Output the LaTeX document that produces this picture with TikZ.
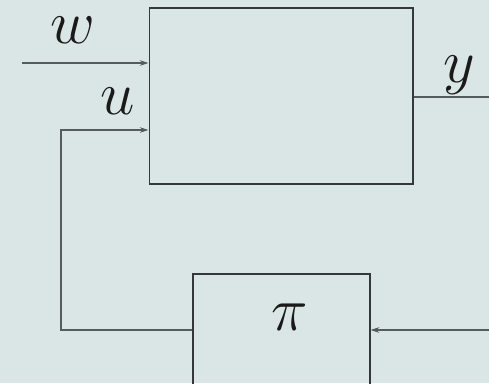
\documentclass[tikz,border=0pt]{standalone}
\usepackage{xcolor}
\usepackage{tikz}
\usepackage{amsmath,amssymb}
\usetikzlibrary{arrows.meta,positioning}
\definecolor{Back}{HTML}{D9E6E5}
\definecolor{Ink}{HTML}{1A1A1A}
\definecolor{Wire}{HTML}{555C5C}
\definecolor{Edge}{HTML}{333838}

\begin{document}
\begin{tikzpicture}[x=0.02cm,y=-0.02cm,
    block/.style={draw=Edge,line width=0.6pt,inner sep=0pt},
    wire/.style={Wire,line width=0.6pt},
    sig/.style={-{Stealth[length=5pt,width=3.2pt]}},
    lab/.style={Ink,anchor=base,inner sep=1pt,font=\Huge,scale=1.41}]
  \fill[Back] (0,0) rectangle (489,383);
  \useasboundingbox (0,0) rectangle (489,383);
  \clip (0,0) rectangle (489,383);
  % blocks
  \node[block,minimum width=5.28cm,minimum height=3.52cm] (plant) at (281,96) {};
  \node[block,minimum width=3.54cm,minimum height=2.24cm] (ctrl) at (281.5,330) {};
  % free ends
  \coordinate (win) at (22,63);
  \coordinate (ucorner) at (61,130);
  \coordinate (yout) at (500,97);
  \coordinate (fback) at (500,330);
  % connectors
  \draw[wire,sig] (win) -- (plant.west |- win);
  \draw[wire,sig] (ctrl.west) -| (ucorner) -- (plant.west |- ucorner);
  \draw[wire] (plant.east |- yout) -- (yout);
  \draw[wire,sig] (fback) -- (ctrl.east);
  % labels
  \node[lab] (wlab) at (73,43) {$w$};
  \node[lab] (ulab) at (118,114) {$u$};
  \node[lab] (ylab) at (459,82) {$y$};
  \node[lab] (pilab) at (290,330) {$\pi$};
\end{tikzpicture}
\end{document}
